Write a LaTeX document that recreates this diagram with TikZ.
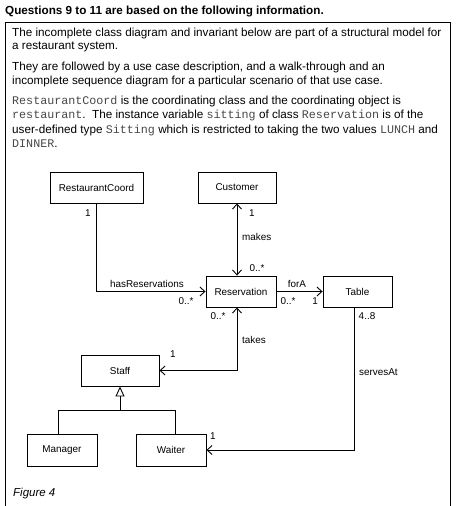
\documentclass[tikz,border=0pt]{standalone}
\usepackage{fontspec}
\setmainfont{Liberation Sans}
\setmonofont{Liberation Mono}
\usetikzlibrary{arrows.meta,calc}
\newcommand\codew[1]{{\ttfamily\color{black!72}#1}}
\begin{document}
\begin{tikzpicture}[x=1pt,y=-1pt,
  cls/.style={draw,line width=0.9pt,font=\fontsize{9.9}{11}\selectfont,minimum height=31pt,inner sep=0pt},
  assoc/.style={line width=0.9pt,>={Straight Barb[length=5pt,width=9pt,line width=0.9pt]}},
  gen/.style={line width=0.9pt},
  lbl/.style={font=\fontsize{9.9}{11}\selectfont,inner sep=0pt},
  body/.style={anchor=base west,inner sep=0pt,font=\fontsize{11.7}{13}\selectfont}]
\useasboundingbox (0,0) rectangle (457,506);
% heading and frame
\node[anchor=base west,inner sep=0pt,font=\fontsize{11.7}{13}\selectfont\bfseries] (title) at (5,14) {Questions 9 to 11 are based on the following information.};
\draw[line width=0.9pt] (5,510) -- (5,22) -- (450,22) -- (450,510);
% paragraph
\node[body] (l1) at (12,36) {The incomplete class diagram and invariant below are part of a structural model for};
\node[body] (l2) at (12,49) {a restaurant system.};
\node[body] (l3) at (12,70) {They are followed by a use case description, and a walk-through and an};
\node[body] (l4) at (12,84) {incomplete sequence diagram for a particular scenario of that use case.};
\node[body] (l5) at (12,104) {\codew{RestaurantCoord} is the coordinating class and the coordinating object is};
\node[body] (l6) at (12,118) {\codew{restaurant}.\ \ The instance variable \codew{sitting} of class \codew{Reservation} is of the};
\node[body] (l7) at (12,133) {user-defined type \codew{Sitting} which is restricted to taking the two values \codew{LUNCH} and};
\node[body] (l8) at (12,147) {\codew{DINNER}.};
% classes
\node[cls,minimum width=93pt] (rc) at (96.5,187.5) {RestaurantCoord};
\node[cls,minimum width=78pt] (cust) at (237,187.5) {Customer};
\node[cls,minimum width=70pt] (res) at (241,291.5) {Reservation};
\node[cls,minimum width=69pt] (tab) at (357.5,291.5) {Table};
\node[cls,minimum width=78pt] (staff) at (120,370.5) {Staff};
\node[cls,minimum width=70pt,minimum height=32pt] (mgr) at (62,450) {Manager};
\node[cls,minimum width=70pt,minimum height=32pt] (waiter) at (171,450) {Waiter};
% associations
\draw[assoc,->] (rc.south) |- (res.west);
\draw[assoc,<->] (cust.south) -- (cust.south |- res.north);
\draw[assoc,->] (res.east) -- (tab.west);
\coordinate (tk) at (cust.south |- res.south);
\draw[assoc,<->] (tk) |- (staff.east);
\coordinate (sa) at ($(tab.south)+(-3.5,0)$);
\draw[assoc,->] (sa) |- (waiter.east);
% generalisation
\coordinate (mj) at ($(mgr.north)+(-4,0)$);
\coordinate (wj) at ($(waiter.north)+(4,0)$);
\coordinate (bar) at (0,410);
\draw[gen] (mj) |- (wj |- bar) -- (wj);
\draw[gen,-{Triangle[open,length=10pt,width=9pt,line width=0.9pt]}] (staff.south |- bar) -- (staff.south);
% labels
\node[lbl] (m1) at (88,213) {1};
\node[lbl] (hr) at (147,284) {hasReservations};
\node[lbl] (m2) at (186,301) {0..*};
\node[lbl] (m3) at (252,213) {1};
\node[lbl,anchor=west] (mk) at (242,237) {makes};
\node[lbl] (m4) at (257,268) {0..*};
\node[lbl] (fa) at (297,284) {forA};
\node[lbl] (m5) at (288,301) {0..*};
\node[lbl] (m6) at (315,301) {1};
\node[lbl] (m7) at (367,316) {4..8};
\node[lbl] (m8) at (218,316) {0..*};
\node[lbl,anchor=west] (tks) at (242,340) {takes};
\node[lbl] (m9) at (173,354) {1};
\node[lbl,anchor=west] (sv) at (359,372) {servesAt};
\node[lbl] (m10) at (213,436) {1};
\node[anchor=west,inner sep=0pt,font=\fontsize{11.5}{13}\selectfont\itshape] (fig) at (13,494) {Figure 4};
\end{tikzpicture}
\end{document}
